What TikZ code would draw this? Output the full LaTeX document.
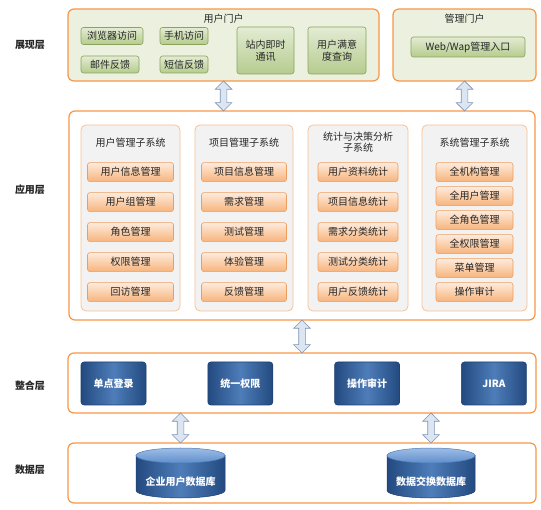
\documentclass[tikz,border=0pt]{standalone}
\usepackage{fontspec}
\setmainfont{Noto Sans CJK SC}
\usetikzlibrary{shapes,arrows.meta}
\usetikzlibrary{positioning,backgrounds}
\definecolor{orline}{HTML}{F79646}
\definecolor{grfill}{HTML}{EBF1DE}
\definecolor{gbtop}{HTML}{E3ECD3}
\definecolor{gbbot}{HTML}{B5CB8E}
\definecolor{gbline}{HTML}{8AA35C}
\definecolor{pnfill}{HTML}{F2F2F2}
\definecolor{pnline}{HTML}{FAC090}
\definecolor{obtop}{HTML}{FDEBDD}
\definecolor{obbot}{HTML}{F8B47C}
\definecolor{obline}{HTML}{EE9D5E}
\definecolor{bdark}{HTML}{234A80}
\definecolor{bmid}{HTML}{4E7DB9}
\definecolor{bline}{HTML}{1F3F6E}
\definecolor{dbtopa}{HTML}{9DBDE6}
\definecolor{dbtopb}{HTML}{5F8FCB}
\definecolor{arfill}{HTML}{DCE6F2}
\definecolor{arline}{HTML}{7F93B0}
\definecolor{txt}{HTML}{262626}
\tikzset{portal/.style={draw=orline, line width=1.2pt, rounded corners=6pt, fill=grfill},
layerbox/.style={draw=orline, line width=1.2pt, rounded corners=6pt},
gbtn/.style={draw=gbline, line width=0.6pt, rounded corners=2.5pt, top color=gbtop, bottom color=gbbot, text=txt, minimum height=17pt, inner sep=1pt},
panel/.style={draw=pnline, line width=0.8pt, rounded corners=5pt, fill=pnfill, minimum height=186pt},
obtn/.style={draw=obline, line width=0.6pt, rounded corners=2.5pt, top color=obtop, bottom color=obbot, text=txt, minimum height=19pt, inner sep=1pt},
bbtn/.style={draw=bline, line width=0.6pt, rounded corners=3pt, left color=bdark, right color=bdark, middle color=bmid, text=white, font=\fontsize{10}{12}\selectfont\bfseries, minimum width=65pt, minimum height=43pt},
dbside/.style={draw=bline, line width=0.5pt, left color=bdark, right color=bdark, middle color=bmid},
dbtop/.style={draw=bmid, line width=0.5pt, top color=dbtopa, bottom color=dbtopb},
dbtext/.style={text=white, font=\fontsize{10}{12}\selectfont\bfseries},
dblarrow/.style={double arrow, draw=arline, line width=0.7pt, fill=arfill, inner sep=3pt, double arrow head extend=5pt, double arrow head indent=0pt, double arrow tip angle=90, minimum height=30pt},
lyr/.style={text=txt, font=\fontsize{10}{12}\selectfont\bfseries},
ttl/.style={text=txt}
}
\begin{document}
\begin{tikzpicture}[x=1pt, y=1pt, node distance=30pt, on grid, font=\fontsize{10}{12}\selectfont]
\useasboundingbox (0,0) rectangle (541,509);
% layer names
\node[lyr] (l_1) at (30,464) {展现层};
\node[lyr] (l_2) at (30,319) {应用层};
\node[lyr] (l_3) at (30,123) {整合层};
\node[lyr] (l_4) at (30,39) {数据层};
% presentation
\node[portal, minimum width=311pt, minimum height=72pt] (up) at (223.5,464) {};
\node[ttl] (up_t) at ([yshift=-10pt]up.north) {用户门户};
\node[gbtn, minimum width=62pt] (ub_1) at (112,473) {浏览器访问};
\node[gbtn, minimum width=48pt] (ub_2) at (184,473) {手机访问};
\node[gbtn, minimum width=58pt] (ub_3) at (110,444.5) {邮件反馈};
\node[gbtn, minimum width=48pt] (ub_4) at (184,444.5) {短信反馈};
\node[gbtn, minimum width=57pt, minimum height=47pt, align=center] (ub_5) at (265.5,458.5) {站内即时\\通讯};
\node[gbtn, minimum width=58pt, minimum height=47pt, align=center] (ub_6) at (337,458.5) {用户满意\\度查询};
\node[portal, minimum width=143pt, minimum height=72pt] (mp) at (464.5,464) {};
\node[ttl] (mp_t) at ([yshift=-10pt]mp.north) {管理门户};
\node[gbtn, minimum width=114pt, minimum height=20pt] (mb_1) at (468,462) {Web/Wap管理入口};
% application
\node[layerbox, minimum width=466pt, minimum height=209pt] (app) at (302,293.5) {};
\node[panel, minimum width=99pt] (p_1) at (130.5,291) {};
\node[panel, minimum width=98pt] (p_2) at (244,291) {};
\node[panel, minimum width=100pt] (p_3) at (358,291) {};
\node[panel, minimum width=105pt] (p_4) at (474.5,291) {};
\node[ttl] (p_1t) at ([yshift=-18pt]p_1.north) {用户管理子系统};
\node[ttl] (p_2t) at ([yshift=-18pt]p_2.north) {项目管理子系统};
\node[ttl, align=center, font=\fontsize{10}{11}\selectfont] (p_3t) at ([yshift=-17.5pt]p_3.north) {统计与决策分析\\子系统};
\node[ttl] (p_4t) at ([yshift=-18pt]p_4.north) {系统管理子系统};
\node[obtn, minimum width=86pt] (um_1) at ([yshift=-47.5pt]p_1.north) {用户信息管理};
\node[obtn, minimum width=86pt, below=of um_1] (um_2) {用户组管理};
\node[obtn, minimum width=86pt, below=of um_2] (um_3) {角色管理};
\node[obtn, minimum width=86pt, below=of um_3] (um_4) {权限管理};
\node[obtn, minimum width=86pt, below=of um_4] (um_5) {回访管理};
\node[obtn, minimum width=85pt] (pm_1) at ([yshift=-47.5pt]p_2.north) {项目信息管理};
\node[obtn, minimum width=85pt, below=of pm_1] (pm_2) {需求管理};
\node[obtn, minimum width=85pt, below=of pm_2] (pm_3) {测试管理};
\node[obtn, minimum width=85pt, below=of pm_3] (pm_4) {体验管理};
\node[obtn, minimum width=85pt, below=of pm_4] (pm_5) {反馈管理};
\node[obtn, minimum width=80pt] (st_1) at ([yshift=-47.5pt]p_3.north) {用户资料统计};
\node[obtn, minimum width=80pt, below=of st_1] (st_2) {项目信息统计};
\node[obtn, minimum width=80pt, below=of st_2] (st_3) {需求分类统计};
\node[obtn, minimum width=80pt, below=of st_3] (st_4) {测试分类统计};
\node[obtn, minimum width=80pt, below=of st_4] (st_5) {用户反馈统计};
\node[obtn, minimum width=77pt] (sm_1) at ([yshift=-47.5pt]p_4.north) {全机构管理};
\node[obtn, minimum width=77pt, below=24pt of sm_1] (sm_2) {全用户管理};
\node[obtn, minimum width=77pt, below=24pt of sm_2] (sm_3) {全角色管理};
\node[obtn, minimum width=77pt, below=24pt of sm_3] (sm_4) {全权限管理};
\node[obtn, minimum width=77pt, below=24pt of sm_4] (sm_5) {菜单管理};
\node[obtn, minimum width=77pt, below=24pt of sm_5] (sm_6) {操作审计};
% integration
\node[layerbox, minimum width=468pt, minimum height=60pt] (int) at (302,126) {};
\node[bbtn] (g_1) at (113.5,125.5) {单点登录};
\node[bbtn, right=126.8pt of g_1] (g_2) {统一权限};
\node[bbtn, right=126.8pt of g_2] (g_3) {操作审计};
\node[bbtn, right=126.8pt of g_3] (g_4) {JIRA};
% data
\node[layerbox, minimum width=468pt, minimum height=60pt] (dat) at (302,36) {};
\node[dbtext] (db_1) at (180.5,27) {企业用户数据库};
\node[dbtext] (db_2) at (431,27) {数据交换数据库};
\begin{scope}[on background layer]
\path[dbside] ([shift={(-44.5,26.5)}]db_1.center) -- ([shift={(-44.5,-8.5)}]db_1.center)
    arc[start angle=180, end angle=360, x radius=44.5, y radius=7.5] -- ([shift={(44.5,26.5)}]db_1.center) -- cycle;
\path[dbtop] ([shift={(0,26.5)}]db_1.center) ellipse [x radius=44.5, y radius=7.5];
\path[dbside] ([shift={(-44,26.5)}]db_2.center) -- ([shift={(-44,-8.5)}]db_2.center)
    arc[start angle=180, end angle=360, x radius=44, y radius=7.5] -- ([shift={(44,26.5)}]db_2.center) -- cycle;
\path[dbtop] ([shift={(0,26.5)}]db_2.center) ellipse [x radius=44, y radius=7.5];
\end{scope}
% links between layers
\path (up.south) -- node[dblarrow, sloped] {} (app.north -| up);
\path (mp.south) -- node[dblarrow, sloped] {} (app.north -| mp);
\path (app.south -| int) -- node[dblarrow, sloped, minimum height=33pt] {} (int.north);
\path (int.south -| db_1) -- node[dblarrow, sloped] {} (dat.north -| db_1);
\path (int.south -| db_2) -- node[dblarrow, sloped] {} (dat.north -| db_2);
\end{tikzpicture}
\end{document}
